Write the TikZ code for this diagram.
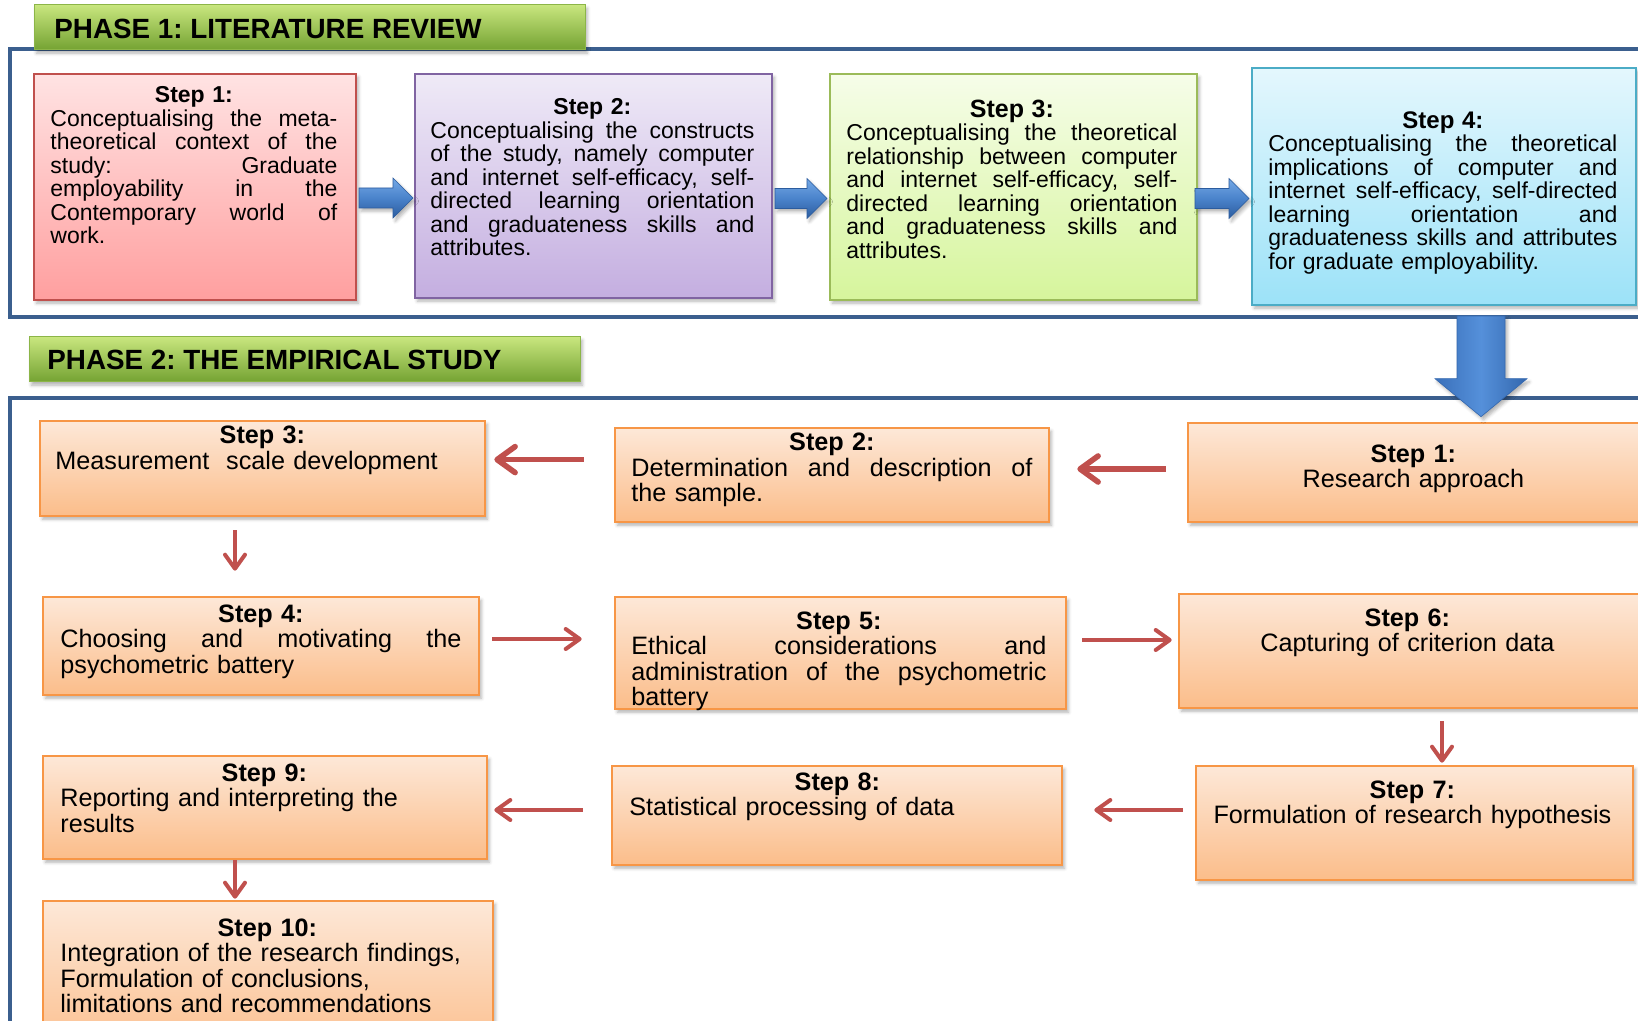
\documentclass[tikz,border=0pt]{standalone}
\usepackage{fontspec}
\setmainfont{Liberation Sans}
\usetikzlibrary{arrows.meta,calc,fit,shadows.blur}
\frenchspacing

% palette
\definecolor{frameblue}{HTML}{3B5F8E}
\definecolor{bannertop}{HTML}{C8E67E}
\definecolor{bannerbot}{HTML}{74A232}
\definecolor{bannerline}{HTML}{8CB548}
\definecolor{redline}{HTML}{C0504D}
\definecolor{redtop}{HTML}{FFE3E3}
\definecolor{redbot}{HTML}{FF9F9F}
\definecolor{purpline}{HTML}{8064A2}
\definecolor{purptop}{HTML}{EFEAF7}
\definecolor{purpbot}{HTML}{C4AEE0}
\definecolor{greenline}{HTML}{9BBB59}
\definecolor{greentop}{HTML}{F6FDE9}
\definecolor{greenbot}{HTML}{D6F59C}
\definecolor{cyanline}{HTML}{4BACC6}
\definecolor{cyantop}{HTML}{E4F7FD}
\definecolor{cyanbot}{HTML}{9CE2F8}
\definecolor{orline}{HTML}{F79646}
\definecolor{ortop}{HTML}{FDE8D8}
\definecolor{orbot}{HTML}{FBBD8A}
\definecolor{arrowred}{HTML}{C0504D}
\definecolor{bluetop}{HTML}{74A8E6}
\definecolor{bluemid}{HTML}{4A83CB}
\definecolor{bluebot}{HTML}{2C5C9E}
\definecolor{downleft}{HTML}{3A70BA}
\definecolor{downmid}{HTML}{5590DA}
\definecolor{downright}{HTML}{3367AE}

% justified line (word spaces spread over the full width), centred bold title line
\newcommand\jl[1]{\leavevmode\hbox to \hsize{\spaceskip=\fontdimen2\font plus 1fil
  \xspaceskip=\spaceskip #1}\\}
\newcommand\ttl[1]{\makebox[\hsize][c]{\bfseries #1}\\}

% horizontal block arrow between two points on one level
\newcommand\blockarrow[2]{%
  \path[blockarrow] let \p1=(#1), \p2=(#2) in
    (\x1,\y1+5pt) -- (\x2-10pt,\y1+5pt) -- (\x2-10pt,\y1+10pt) -- (\x2,\y1)
    -- (\x2-10pt,\y1-10pt) -- (\x2-10pt,\y1-5pt) -- (\x1,\y1-5pt) -- cycle;}

\tikzset{
  softshadow/.style={blur shadow={shadow xshift=1.2pt, shadow yshift=-1.6pt,
      shadow blur radius=1.6pt, shadow opacity=30}},
  stepbox/.style={rectangle, inner sep=0pt, line width=1pt, softshadow},
  redbox/.style={stepbox, draw=redline, top color=redtop, bottom color=redbot},
  purpbox/.style={stepbox, draw=purpline, top color=purptop, bottom color=purpbot},
  greenbox/.style={stepbox, draw=greenline, top color=greentop, bottom color=greenbot},
  cyanbox/.style={stepbox, draw=cyanline, top color=cyantop, bottom color=cyanbot},
  orbox/.style={stepbox, line width=1.3pt, draw=orline, top color=ortop, bottom color=orbot},
  banner/.style={rectangle, inner sep=0pt, draw=bannerline, line width=0.5pt,
      top color=bannertop, bottom color=bannerbot, softshadow},
  bannertext/.style={anchor=west, inner sep=0pt,
      font=\fontsize{13.9pt}{16pt}\selectfont\bfseries},
  frame/.style={draw=frameblue, line width=1.6pt},
  onetext/.style={anchor=base west, inner sep=0pt, align=left,
      font=\fontsize{11.5pt}{11.75pt}\selectfont},
  twotext/.style={anchor=base west, inner sep=0pt, align=left,
      font=\fontsize{12.6pt}{12.75pt}\selectfont},
  twotextc/.style={twotext, align=center, text width=220pt},
  flow/.style={draw=arrowred, line width=2pt,
      -{Straight Barb[length=7pt,width=10pt,round]}},
  flowthick/.style={draw=arrowred, line width=2.8pt,
      -{Straight Barb[length=9pt,width=13pt,round]}},
  blockarrow/.style={top color=bluetop, bottom color=bluebot, middle color=bluemid,
      draw=bluebot, line width=0.3pt, softshadow},
  bluedown/.style={left color=downleft, right color=downright, middle color=downmid,
      draw=downright, line width=0.3pt, softshadow},
}

\begin{document}
\begin{tikzpicture}[x=0.5pt, y=-0.5pt]
\useasboundingbox (0,0) rectangle (1638,1021);
\clip (0,0) rectangle (1638,1021);

% ---------- Phase 1 ----------
\draw[frame] (10,49) rectangle (1660,317);
\node[banner, fit={(34,5) (585,50)}] (ban1) {};
\node[bannertext] (ban1t) at (54,29) {PHASE 1: LITERATURE REVIEW};

\node[redbox, fit={(34,74) (356,300)}] (a1) {};
\node[onetext, text width=143.5pt] (a1t) at (50,103) {\ttl{Step 1:}%
\jl{Conceptualising the meta-}%
\jl{theoretical context of the}%
\jl{study: Graduate}%
\jl{employability in the}%
\jl{Contemporary world of}%
work.};

\node[purpbox, fit={(415,74) (772,298)}] (a2) {};
\node[onetext, text width=162pt] (a2t) at (430,115) {\ttl{Step 2:}%
\jl{Conceptualising the constructs}%
\jl{of the study, namely computer}%
\jl{and internet self-efficacy, self-}%
\jl{directed learning orientation}%
\jl{and graduateness skills and}%
attributes.};

\node[greenbox, fit={(830,74) (1197,300)}] (a3) {};
\node[onetext, text width=165.5pt] (a3t) at (846,117.5) {\ttl{\fontsize{12.5pt}{11.75pt}\selectfont Step 3:}%
\jl{Conceptualising the theoretical}%
\jl{relationship between computer}%
\jl{and internet self-efficacy, self-}%
\jl{directed learning orientation}%
\jl{and graduateness skills and}%
attributes.};

\node[cyanbox, fit={(1252,68) (1636,305)}] (a4) {};
\node[onetext, text width=174.5pt] (a4t) at (1268,128.4) {\ttl{\fontsize{12pt}{11.75pt}\selectfont Step 4:}%
\jl{Conceptualising the theoretical}%
\jl{implications of computer and}%
\jl{internet self-efficacy, self-directed}%
\jl{learning orientation and}%
\jl{graduateness skills and attributes}%
for graduate employability.};

% block arrows between the literature steps
\coordinate (h1s) at ($(a1.east)+(2,11)$);
\coordinate (h1e) at ($(a1.east -| a2.west)+(-1,11)$);
\coordinate (h2s) at ($(a2.east)+(2,12.5)$);
\coordinate (h2e) at ($(a2.east -| a3.west)+(-2,12.5)$);
\coordinate (h3s) at ($(a3.east)+(-3,11.5)$);
\coordinate (h3e) at ($(a3.east -| a4.west)+(-2,11.5)$);
\blockarrow{h1s}{h1e}
\blockarrow{h2s}{h2e}
\blockarrow{h3s}{h3e}

% ---------- Phase 2 ----------
\draw[frame] (10,398) rectangle (1660,1060);
\node[banner, fit={(29,337) (580,382)}] (ban2) {};
\node[bannertext] (ban2t) at (47,360) {PHASE 2: THE EMPIRICAL STUDY};

\node[orbox, fit={(1188,423) (1660,522)}] (b1) {};
\node[twotextc] (b1t) at (1193,462) {\textbf{Step 1:}\\Research approach};

\node[orbox, fit={(615,428) (1049,522)}] (b2) {};
\node[twotext, text width=200.5pt] (b2t) at (631,451) {\ttl{Step 2:}%
\jl{Determination and description of}%
the sample.};

\node[orbox, fit={(40,421) (485,516)}] (b3) {};
\node[twotext, text width=207pt] (b3t) at (55,444) {\ttl{Step 3:}%
Measurement\ \ scale development};

\node[orbox, fit={(43,597) (479,695)}] (b4) {};
\node[twotext, text width=200.5pt] (b4t) at (60,622) {\ttl{Step 4:}%
\jl{Choosing and motivating the}%
psychometric battery};

\node[orbox, fit={(615,597) (1066,709)}] (b5) {};
\node[twotext, text width=207.5pt] (b5t) at (631,629) {\ttl{Step 5:}%
\jl{Ethical considerations and}%
\jl{administration of the psychometric}%
battery};

\node[orbox, fit={(1179,594) (1660,708)}] (b6) {};
\node[twotextc] (b6t) at (1187,626) {\textbf{Step 6:}\\Capturing of criterion data};

\node[orbox, fit={(1196,766) (1633,880)}] (b7) {};
\node[twotextc] (b7t) at (1192,798) {\textbf{Step 7:}\\Formulation of research hypothesis};

\node[orbox, fit={(612,766) (1062,865)}] (b8) {};
\node[twotext, text width=208pt] (b8t) at (629,790) {\ttl{Step 8:}%
Statistical processing of data};

\node[orbox, fit={(43,756) (487,859)}] (b9) {};
\node[twotext, text width=204pt] (b9t) at (60,781) {\ttl{Step 9:}%
Reporting and interpreting the\\results};

\node[orbox, fit={(43,901) (493,1060)}] (b10) {};
\node[twotext, text width=207pt] (b10t) at (60,936) {\ttl{Step 10:}%
Integration of the research findings,\\Formulation of conclusions,\\limitations and recommendations};

% flow between the empirical steps
\draw[flowthick] ($(b1.west)+(-21,-3.5)$) -- ($(b1.west -| b2.east)+(27,-3.5)$);
\draw[flowthick] ($(b2.west)+(-30,-15.4)$) -- ($(b2.west -| b3.east)+(8,-15.4)$);
\draw[flow] ($(b3.south)+(-27.5,13)$) -- ($(b3.south |- b4.north)+(-27.5,-25)$);
\draw[flow] ($(b4.east)+(12,-7)$) -- ($(b4.east -| b5.west)+(-32,-7)$);
\draw[flow] ($(b5.east)+(15,-13)$) -- ($(b5.east -| b6.west)+(-6,-13)$);
\draw[flow] ($(b7.north |- b6.south)+(27.5,12)$) -- ($(b7.north)+(27.5,-2)$);
\draw[flow] ($(b7.west)+(-12,-13)$) -- ($(b7.west -| b8.east)+(31,-13)$);
\draw[flow] ($(b8.west)+(-28,-5.5)$) -- ($(b8.west -| b9.east)+(6,-5.5)$);
\draw[flow] ($(b9.south)+(-30,0)$) -- ($(b9.south |- b10.north)+(-30,-1)$);

% big arrow from the literature review into the empirical study
\coordinate (dtop) at ($(a4.south)+(37,10)$);
\coordinate (dtip) at ($(dtop |- b1.north)+(0,-5)$);
\path[bluedown] let \p1=(dtop), \p2=(dtip) in
  (\x1-12pt,\y1) -- (\x1+12pt,\y1) -- (\x1+12pt,\y2+19pt) -- (\x1+23pt,\y2+19pt)
  -- (\x1,\y2) -- (\x1-23pt,\y2+19pt) -- (\x1-12pt,\y2+19pt) -- cycle;
\end{tikzpicture}
\end{document}
